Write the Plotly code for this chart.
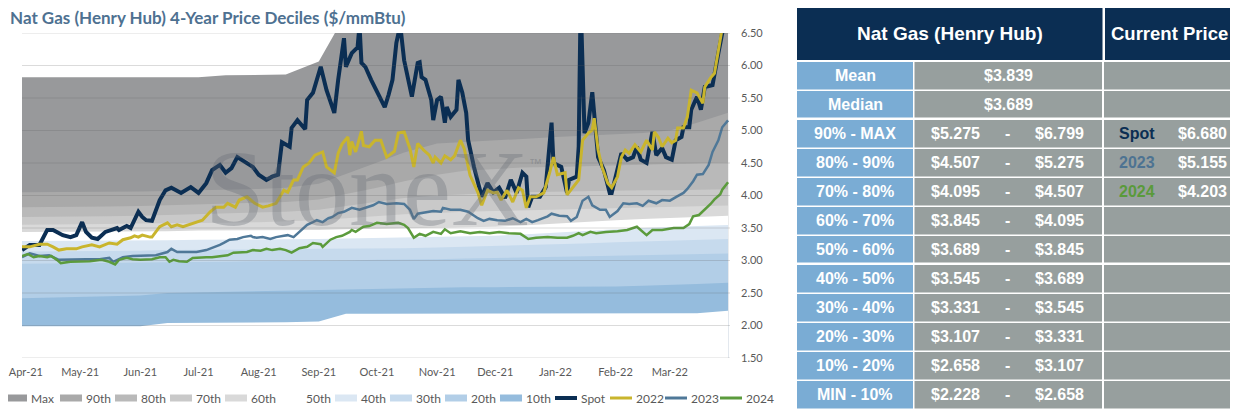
import plotly.graph_objects as go

# the page puts the figure 8px in from the top-left, so lay out in screen pixels and shift
OFF = 8
FW, FH = 1238 - OFF, 409 - OFF


def sx(x):
    return (x - OFF) / FW


def sy(y):
    return 1 - (y - OFF) / FH


# rolling 4-year decile bands at semi-monthly points
band_dates = ["2021-04-01", "2021-04-15", "2021-05-01", "2021-05-15", "2021-06-01",
              "2021-06-15", "2021-07-01", "2021-07-15", "2021-08-01", "2021-08-15",
              "2021-09-01", "2021-09-15", "2021-10-01", "2021-10-15", "2021-11-01",
              "2021-11-15", "2021-12-01", "2021-12-15", "2022-01-01", "2022-01-15",
              "2022-02-01", "2022-02-15", "2022-03-01", "2022-03-15", "2022-03-31"]
max_vals = [5.82, 5.82, 5.82, 5.82, 5.82, 5.82, 5.82, 5.85, 5.85, 5.86, 6.06, 6.799, 6.799,
            6.799, 6.799, 6.799, 6.799, 6.799, 6.799, 6.799, 6.799, 6.799, 6.799, 6.799, 6.799]
p90 = [4.05, 4.05, 4.05, 4.06, 4.06, 4.07, 4.08, 4.09, 4.10, 4.12, 4.18, 4.33, 4.50,
       4.66, 4.80, 4.82, 4.85, 4.87, 4.90, 4.92, 4.94, 4.96, 5.00, 5.12, 5.275]
p80 = [3.82, 3.82, 3.83, 3.83, 3.84, 3.85, 3.86, 3.87, 3.88, 3.90, 3.94, 4.02, 4.12,
       4.22, 4.32, 4.38, 4.41, 4.43, 4.44, 4.45, 4.46, 4.47, 4.48, 4.49, 4.507]
p70 = [3.67, 3.67, 3.68, 3.68, 3.69, 3.70, 3.71, 3.72, 3.73, 3.75, 3.78, 3.84, 3.90,
       3.96, 4.00, 4.02, 4.04, 4.05, 4.06, 4.07, 4.07, 4.08, 4.08, 4.09, 4.095]
p60 = [3.55, 3.55, 3.56, 3.56, 3.57, 3.57, 3.58, 3.58, 3.59, 3.60, 3.62, 3.65, 3.68,
       3.71, 3.73, 3.75, 3.76, 3.77, 3.78, 3.79, 3.80, 3.81, 3.82, 3.83, 3.845]
p50 = [3.44, 3.44, 3.44, 3.45, 3.45, 3.45, 3.46, 3.46, 3.46, 3.47, 3.47, 3.48, 3.49,
       3.50, 3.50, 3.51, 3.52, 3.54, 3.57, 3.60, 3.62, 3.64, 3.66, 3.67, 3.689]
p40 = [3.30, 3.30, 3.30, 3.31, 3.31, 3.31, 3.32, 3.32, 3.32, 3.33, 3.33, 3.34, 3.35,
       3.36, 3.36, 3.37, 3.38, 3.40, 3.43, 3.46, 3.48, 3.50, 3.52, 3.53, 3.545]
p30 = [3.14, 3.14, 3.15, 3.15, 3.15, 3.16, 3.16, 3.16, 3.17, 3.17, 3.18, 3.18, 3.19,
       3.19, 3.20, 3.21, 3.22, 3.23, 3.24, 3.26, 3.28, 3.29, 3.30, 3.32, 3.331]
p20 = [2.95, 2.95, 2.96, 2.96, 2.97, 2.97, 2.98, 2.98, 2.99, 2.99, 3.00, 3.00, 3.01,
       3.01, 3.02, 3.03, 3.04, 3.05, 3.05, 3.06, 3.07, 3.08, 3.09, 3.10, 3.107]
p10 = [2.42, 2.43, 2.44, 2.45, 2.46, 2.50, 2.51, 2.52, 2.53, 2.54, 2.55, 2.56, 2.57,
       2.58, 2.59, 2.59, 2.59, 2.59, 2.59, 2.60, 2.60, 2.61, 2.62, 2.64, 2.658]
min_vals = [1.99, 1.99, 1.99, 1.99, 1.99, 2.04, 2.04, 2.05, 2.05, 2.05, 2.06, 2.18, 2.18,
            2.18, 2.18, 2.18, 2.18, 2.18, 2.18, 2.18, 2.18, 2.18, 2.18, 2.19, 2.228]
decile_names = ["Max", "90th", "80th", "70th", "60th", "50th", "40th", "30th", "20th", "10th"]

# price lines as (date, $/mmBtu)
spot_points = [
    ("2021-04-01", 3.16), ("2021-04-05", 3.24), ("2021-04-10", 3.24), ("2021-04-14", 3.47),
    ("2021-04-17", 3.47), ("2021-04-22", 3.39), ("2021-04-26", 3.36), ("2021-04-29", 3.39),
    ("2021-05-02", 3.59), ("2021-05-04", 3.44), ("2021-05-07", 3.35), ("2021-05-10", 3.33),
    ("2021-05-14", 3.44), ("2021-05-20", 3.50), ("2021-05-21", 3.47), ("2021-05-25", 3.53),
    ("2021-05-27", 3.50), ("2021-05-31", 3.75), ("2021-06-02", 3.67), ("2021-06-04", 3.62),
    ("2021-06-07", 3.61), ("2021-06-11", 3.93), ("2021-06-14", 4.08), ("2021-06-17", 4.12),
    ("2021-06-22", 4.04), ("2021-06-27", 4.13), ("2021-07-01", 4.04), ("2021-07-05", 4.19),
    ("2021-07-08", 4.39), ("2021-07-12", 4.47), ("2021-07-15", 4.35), ("2021-07-18", 4.42),
    ("2021-07-21", 4.59), ("2021-07-26", 4.50), ("2021-07-29", 4.44), ("2021-08-01", 4.32),
    ("2021-08-05", 4.24), ("2021-08-08", 4.29), ("2021-08-11", 4.32), ("2021-08-13", 4.82),
    ("2021-08-17", 4.75), ("2021-08-18", 5.04), ("2021-08-21", 5.16), ("2021-08-25", 5.02),
    ("2021-08-26", 5.47), ("2021-08-29", 5.58), ("2021-08-31", 5.78), ("2021-09-02", 5.98),
    ("2021-09-05", 5.62), ("2021-09-07", 5.42), ("2021-09-09", 5.27), ("2021-09-11", 5.78),
    ("2021-09-14", 6.42), ("2021-09-15", 5.98), ("2021-09-18", 6.19), ("2021-09-21", 6.28),
    ("2021-09-22", 6.62), ("2021-09-23", 6.04), ("2021-09-25", 5.98), ("2021-09-28", 5.78),
    ("2021-10-02", 5.52), ("2021-10-05", 5.36), ("2021-10-07", 5.55), ("2021-10-09", 5.78),
    ("2021-10-11", 6.35), ("2021-10-13", 6.62), ("2021-10-15", 6.08), ("2021-10-17", 5.78),
    ("2021-10-19", 5.52), ("2021-10-22", 6.04), ("2021-10-23", 6.05), ("2021-10-24", 5.82),
    ("2021-10-26", 5.78), ("2021-10-29", 5.47), ("2021-10-30", 5.16), ("2021-11-01", 5.47),
    ("2021-11-03", 5.52), ("2021-11-05", 5.12), ("2021-11-06", 5.36), ("2021-11-08", 5.21),
    ("2021-11-11", 5.32), ("2021-11-12", 5.78), ("2021-11-14", 5.58), ("2021-11-16", 5.27),
    ("2021-11-17", 4.85), ("2021-11-20", 4.44), ("2021-11-23", 4.08), ("2021-11-24", 3.98),
    ("2021-11-27", 4.19), ("2021-11-30", 4.05), ("2021-12-03", 4.12), ("2021-12-06", 3.96),
    ("2021-12-09", 4.24), ("2021-12-12", 4.04), ("2021-12-15", 4.35), ("2021-12-17", 4.29),
    ("2021-12-18", 3.82), ("2021-12-20", 3.98), ("2021-12-24", 3.98), ("2021-12-27", 4.13),
    ("2021-12-30", 5.12), ("2021-12-31", 4.50), ("2022-01-04", 4.44), ("2022-01-07", 4.04),
    ("2022-01-08", 4.24), ("2022-01-12", 4.29), ("2022-01-13", 4.75), ("2022-01-14", 7.00),
    ("2022-01-16", 4.96), ("2022-01-18", 5.12), ("2022-01-20", 5.59), ("2022-01-22", 4.85),
    ("2022-01-23", 4.59), ("2022-01-26", 4.39), ("2022-01-29", 4.04), ("2022-01-30", 4.04),
    ("2022-02-02", 4.39), ("2022-02-04", 4.65), ("2022-02-07", 4.55), ("2022-02-10", 4.59),
    ("2022-02-12", 4.75), ("2022-02-14", 4.55), ("2022-02-17", 4.50), ("2022-02-20", 4.98),
    ("2022-02-22", 4.62), ("2022-02-25", 4.73), ("2022-02-27", 4.59), ("2022-03-02", 4.55),
    ("2022-03-04", 4.85), ("2022-03-07", 4.90), ("2022-03-08", 5.05), ("2022-03-11", 5.05),
    ("2022-03-12", 5.32), ("2022-03-15", 5.52), ("2022-03-17", 5.32), ("2022-03-19", 5.67),
    ("2022-03-23", 5.70), ("2022-03-25", 5.98), ("2022-03-26", 6.19), ("2022-03-28", 6.50),
    ("2022-03-31", 6.68),
]
y2022_points = [
    ("2021-04-01", 3.21), ("2021-04-05", 3.21), ("2021-04-10", 3.25), ("2021-04-14", 3.25),
    ("2021-04-17", 3.21), ("2021-04-20", 3.16), ("2021-04-24", 3.18), ("2021-04-29", 3.18),
    ("2021-05-02", 3.21), ("2021-05-07", 3.24), ("2021-05-11", 3.21), ("2021-05-16", 3.27),
    ("2021-05-20", 3.25), ("2021-05-23", 3.32), ("2021-05-27", 3.35), ("2021-05-29", 3.38),
    ("2021-05-31", 3.36), ("2021-06-02", 3.39), ("2021-06-06", 3.36), ("2021-06-07", 3.36),
    ("2021-06-11", 3.52), ("2021-06-15", 3.58), ("2021-06-17", 3.52), ("2021-06-20", 3.55),
    ("2021-06-23", 3.52), ("2021-06-26", 3.55), ("2021-06-30", 3.59), ("2021-07-03", 3.62),
    ("2021-07-07", 3.75), ("2021-07-10", 3.82), ("2021-07-14", 3.82), ("2021-07-16", 3.88),
    ("2021-07-20", 3.82), ("2021-07-22", 3.93), ("2021-07-26", 3.98), ("2021-07-28", 3.93),
    ("2021-07-30", 3.88), ("2021-08-03", 3.82), ("2021-08-06", 3.84), ("2021-08-10", 3.88),
    ("2021-08-14", 4.08), ("2021-08-16", 4.05), ("2021-08-19", 4.24), ("2021-08-21", 4.24),
    ("2021-08-24", 4.44), ("2021-08-27", 4.50), ("2021-08-30", 4.62), ("2021-09-03", 4.67),
    ("2021-09-05", 4.44), ("2021-09-09", 4.35), ("2021-09-11", 4.65), ("2021-09-13", 4.79),
    ("2021-09-16", 4.90), ("2021-09-17", 4.62), ("2021-09-18", 4.83), ("2021-09-20", 4.67),
    ("2021-09-23", 4.99), ("2021-09-24", 4.77), ("2021-09-27", 4.75), ("2021-09-30", 4.85),
    ("2021-10-03", 4.85), ("2021-10-06", 4.59), ("2021-10-10", 4.68), ("2021-10-12", 4.96),
    ("2021-10-15", 4.98), ("2021-10-18", 4.72), ("2021-10-20", 4.44), ("2021-10-22", 4.80),
    ("2021-10-25", 4.70), ("2021-10-28", 4.62), ("2021-10-30", 4.50), ("2021-10-31", 4.59),
    ("2021-11-03", 4.50), ("2021-11-05", 4.61), ("2021-11-08", 4.55), ("2021-11-10", 4.61),
    ("2021-11-13", 4.85), ("2021-11-15", 4.72), ("2021-11-18", 4.31), ("2021-11-22", 4.05),
    ("2021-11-24", 3.85), ("2021-11-27", 4.08), ("2021-11-30", 4.04), ("2021-12-02", 4.05),
    ("2021-12-04", 3.93), ("2021-12-07", 4.08), ("2021-12-10", 3.90), ("2021-12-13", 4.12),
    ("2021-12-15", 4.08), ("2021-12-17", 3.81), ("2021-12-19", 3.98), ("2021-12-22", 3.98),
    ("2021-12-26", 4.04), ("2021-12-29", 4.35), ("2021-12-31", 4.59), ("2022-01-02", 4.32),
    ("2022-01-06", 4.35), ("2022-01-07", 4.01), ("2022-01-10", 4.13), ("2022-01-13", 4.24),
    ("2022-01-15", 4.85), ("2022-01-18", 4.96), ("2022-01-20", 5.01), ("2022-01-21", 5.19),
    ("2022-01-23", 4.70), ("2022-01-25", 4.44), ("2022-01-28", 4.19), ("2022-01-30", 4.12),
    ("2022-02-02", 4.29), ("2022-02-04", 4.59), ("2022-02-06", 4.70), ("2022-02-08", 4.65),
    ("2022-02-11", 4.78), ("2022-02-14", 4.67), ("2022-02-17", 4.85), ("2022-02-20", 4.70),
    ("2022-02-21", 4.98), ("2022-02-23", 4.90), ("2022-02-25", 4.75), ("2022-02-28", 4.88),
    ("2022-03-02", 4.81), ("2022-03-04", 4.85), ("2022-03-05", 5.04), ("2022-03-08", 5.04),
    ("2022-03-10", 5.21), ("2022-03-12", 5.62), ("2022-03-15", 5.58), ("2022-03-18", 5.42),
    ("2022-03-19", 5.67), ("2022-03-22", 5.81), ("2022-03-24", 5.88), ("2022-03-25", 6.04),
    ("2022-03-27", 6.39), ("2022-03-28", 6.58), ("2022-03-31", 6.85),
]
y2023_points = [
    ("2021-04-01", 3.05), ("2021-04-05", 3.11), ("2021-04-10", 3.07), ("2021-04-15", 3.08),
    ("2021-04-20", 3.01), ("2021-04-27", 3.02), ("2021-05-04", 3.02), ("2021-05-11", 3.02),
    ("2021-05-16", 3.04), ("2021-05-18", 2.98), ("2021-05-23", 3.05), ("2021-05-28", 3.07),
    ("2021-06-04", 3.07), ("2021-06-09", 3.08), ("2021-06-15", 3.13), ("2021-06-17", 3.18),
    ("2021-06-20", 3.13), ("2021-06-25", 3.13), ("2021-06-30", 3.13), ("2021-07-05", 3.16),
    ("2021-07-08", 3.19), ("2021-07-12", 3.24), ("2021-07-14", 3.27), ("2021-07-17", 3.32),
    ("2021-07-21", 3.33), ("2021-07-24", 3.36), ("2021-07-28", 3.38), ("2021-07-29", 3.36),
    ("2021-07-31", 3.35), ("2021-08-03", 3.36), ("2021-08-07", 3.33), ("2021-08-10", 3.36),
    ("2021-08-14", 3.38), ("2021-08-16", 3.39), ("2021-08-19", 3.36), ("2021-08-22", 3.44),
    ("2021-08-26", 3.55), ("2021-08-29", 3.59), ("2021-08-31", 3.62), ("2021-09-03", 3.59),
    ("2021-09-06", 3.65), ("2021-09-08", 3.67), ("2021-09-11", 3.73), ("2021-09-14", 3.75),
    ("2021-09-18", 3.81), ("2021-09-22", 3.78), ("2021-09-25", 3.81), ("2021-09-29", 3.85),
    ("2021-10-02", 3.90), ("2021-10-06", 3.87), ("2021-10-11", 3.88), ("2021-10-15", 3.87),
    ("2021-10-18", 3.78), ("2021-10-20", 3.64), ("2021-10-22", 3.72), ("2021-10-27", 3.75),
    ("2021-10-30", 3.76), ("2021-11-03", 3.75), ("2021-11-04", 3.81), ("2021-11-08", 3.78),
    ("2021-11-13", 3.78), ("2021-11-17", 3.75), ("2021-11-22", 3.65), ("2021-11-25", 3.61),
    ("2021-11-28", 3.64), ("2021-12-02", 3.62), ("2021-12-06", 3.61), ("2021-12-10", 3.65),
    ("2021-12-14", 3.59), ("2021-12-17", 3.64), ("2021-12-20", 3.59), ("2021-12-23", 3.62),
    ("2021-12-28", 3.68), ("2021-12-30", 3.72), ("2022-01-03", 3.69), ("2022-01-07", 3.68),
    ("2022-01-09", 3.61), ("2022-01-12", 3.67), ("2022-01-15", 3.92), ("2022-01-18", 3.98),
    ("2022-01-20", 3.85), ("2022-01-24", 3.78), ("2022-01-27", 3.78), ("2022-01-29", 3.67),
    ("2022-02-02", 3.76), ("2022-02-05", 3.88), ("2022-02-08", 3.87), ("2022-02-12", 3.88),
    ("2022-02-15", 3.84), ("2022-02-18", 3.92), ("2022-02-22", 3.88), ("2022-02-25", 3.93),
    ("2022-03-01", 3.92), ("2022-03-05", 3.99), ("2022-03-08", 4.04), ("2022-03-10", 4.10),
    ("2022-03-13", 4.22), ("2022-03-15", 4.32), ("2022-03-18", 4.33), ("2022-03-21", 4.47),
    ("2022-03-23", 4.67), ("2022-03-26", 4.85), ("2022-03-28", 5.05), ("2022-03-31", 5.155),
]
y2024_points = [
    ("2021-04-01", 3.07), ("2021-04-04", 3.10), ("2021-04-07", 3.05), ("2021-04-10", 3.07),
    ("2021-04-14", 3.05), ("2021-04-16", 3.07), ("2021-04-19", 3.01), ("2021-04-21", 2.96),
    ("2021-04-26", 2.98), ("2021-05-01", 2.98), ("2021-05-06", 2.99), ("2021-05-12", 3.01),
    ("2021-05-16", 2.98), ("2021-05-19", 2.94), ("2021-05-21", 3.01), ("2021-05-25", 3.04),
    ("2021-05-28", 3.02), ("2021-06-01", 3.01), ("2021-06-04", 3.01), ("2021-06-07", 3.02),
    ("2021-06-11", 3.05), ("2021-06-14", 3.05), ("2021-06-16", 2.98), ("2021-06-18", 3.01),
    ("2021-06-21", 2.99), ("2021-06-25", 2.98), ("2021-06-28", 3.04), ("2021-07-02", 3.05),
    ("2021-07-05", 3.05), ("2021-07-08", 3.05), ("2021-07-12", 3.07), ("2021-07-16", 3.08),
    ("2021-07-19", 3.12), ("2021-07-22", 3.12), ("2021-07-26", 3.13), ("2021-07-29", 3.16),
    ("2021-08-02", 3.15), ("2021-08-05", 3.18), ("2021-08-08", 3.16), ("2021-08-12", 3.18),
    ("2021-08-15", 3.16), ("2021-08-18", 3.12), ("2021-08-22", 3.19), ("2021-08-26", 3.21),
    ("2021-08-29", 3.27), ("2021-09-02", 3.25), ("2021-09-03", 3.21), ("2021-09-07", 3.32),
    ("2021-09-10", 3.36), ("2021-09-13", 3.38), ("2021-09-17", 3.44), ("2021-09-18", 3.47),
    ("2021-09-20", 3.44), ("2021-09-24", 3.52), ("2021-09-27", 3.53), ("2021-10-01", 3.58),
    ("2021-10-06", 3.56), ("2021-10-12", 3.58), ("2021-10-15", 3.55), ("2021-10-17", 3.50),
    ("2021-10-20", 3.35), ("2021-10-23", 3.41), ("2021-10-26", 3.38), ("2021-10-30", 3.44),
    ("2021-11-03", 3.41), ("2021-11-05", 3.48), ("2021-11-08", 3.42), ("2021-11-13", 3.45),
    ("2021-11-18", 3.42), ("2021-11-23", 3.44), ("2021-11-28", 3.42), ("2021-12-03", 3.44),
    ("2021-12-08", 3.42), ("2021-12-14", 3.41), ("2021-12-18", 3.33), ("2021-12-22", 3.35),
    ("2021-12-28", 3.36), ("2022-01-02", 3.35), ("2022-01-07", 3.35), ("2022-01-10", 3.38),
    ("2022-01-13", 3.42), ("2022-01-15", 3.39), ("2022-01-19", 3.44), ("2022-01-22", 3.42),
    ("2022-01-27", 3.44), ("2022-02-02", 3.45), ("2022-02-07", 3.47), ("2022-02-12", 3.52),
    ("2022-02-15", 3.45), ("2022-02-17", 3.39), ("2022-02-20", 3.47), ("2022-02-25", 3.47),
    ("2022-03-03", 3.50), ("2022-03-08", 3.50), ("2022-03-11", 3.56), ("2022-03-13", 3.68),
    ("2022-03-16", 3.70), ("2022-03-19", 3.78), ("2022-03-22", 3.87), ("2022-03-24", 3.94),
    ("2022-03-27", 4.02), ("2022-03-28", 4.09), ("2022-03-31", 4.203),
]

# first label nudged a couple of days so it is not clipped at the page edge
month_ticks = ["2021-04-03", "2021-05-01", "2021-06-01", "2021-07-01", "2021-08-01", "2021-09-01",
               "2021-10-01", "2021-11-01", "2021-12-01", "2022-01-01", "2022-02-01", "2022-03-01"]
month_labels = ["Apr-21", "May-21", "Jun-21", "Jul-21", "Aug-21", "Sep-21",
                "Oct-21", "Nov-21", "Dec-21", "Jan-22", "Feb-22", "Mar-22"]
price_ticks = [1.5, 2.0, 2.5, 3.0, 3.5, 4.0, 4.5, 5.0, 5.5, 6.0, 6.5]

# table on the right
table_title = "Nat Gas (Henry Hub)"
current_title = "Current Price"
row_labels = ["Mean", "Median", "90% - MAX", "80% - 90%", "70% - 80%", "60% - 70%",
              "50% - 60%", "40% - 50%", "30% - 40%", "20% - 30%", "10% - 20%", "MIN - 10%"]
stat_values = ["$3.839", "$3.689"]
range_low = ["$5.275", "$4.507", "$4.095", "$3.845", "$3.689", "$3.545", "$3.331", "$3.107", "$2.658", "$2.228"]
range_high = ["$6.799", "$5.275", "$4.507", "$4.095", "$3.845", "$3.689", "$3.545", "$3.331", "$3.107", "$2.658"]
current_names = ["Spot", "2023", "2024"]
current_prices = ["$6.680", "$5.155", "$4.203"]

band_colors = ["#98999b", "#a9a9a9", "#b9b9b9", "#c9c9c9", "#d9d9d9", "#ffffff",
               "#dbe7f3", "#c6daed", "#b2cee7", "#95bcdd"]
navy = "#0b2e53"
label_blue = "#7aacd4"
cell_gray = "#979f9e"
current_colors = [navy, "#4d7392", "#5a9a3b"]

fig = go.Figure()

# decile areas, widest first so each smaller one paints over it
bands = [max_vals, p90, p80, p70, p60, p50, p40, p30, p20, p10]
for name, vals, col in zip(decile_names, bands, band_colors):
    fig.add_trace(go.Scatter(x=band_dates, y=vals, name=name, mode="lines", fill="tozeroy",
                             fillcolor=col, line=dict(width=0, color=col), hoverinfo="skip"))
fig.add_trace(go.Scatter(x=band_dates, y=min_vals, name="Min", mode="lines", fill="tozeroy",
                         fillcolor="white", line=dict(width=0, color="white"), hoverinfo="skip"))

lines = [("Spot", spot_points, navy, 4), ("2022", y2022_points, "#c9b52d", 3),
         ("2023", y2023_points, "#4f7898", 2.5), ("2024", y2024_points, "#5b9b3c", 2.5)]
for name, pts, col, w in lines:
    fig.add_trace(go.Scatter(x=[d for d, _ in pts], y=[v for _, v in pts], name=name,
                             mode="lines", line=dict(color=col, width=w)))

# gridlines drawn over the bands like the excel original
for v in price_ticks:
    fig.add_shape(type="line", xref="x domain", x0=0, x1=1, yref="y", y0=v, y1=v,
                  line=dict(color="rgba(90,90,90,0.22)", width=1), layer="above")

axis_font = dict(family="Lato", size=11, color="#595959")
fig.update_layout(
    width=FW, height=FH, margin=dict(l=0, r=0, t=0, b=0, autoexpand=False),
    paper_bgcolor="white", plot_bgcolor="white", showlegend=False,
    xaxis=dict(domain=[sx(22), sx(730)], type="date", range=["2021-04-01", "2022-04-01"],
               tickvals=month_ticks, ticktext=month_labels, showgrid=False, zeroline=False,
               showline=False, ticks="", tickfont=axis_font, ticklabelstandoff=6,
               ticklabeloverflow="allow"),
    yaxis=dict(domain=[sy(358), sy(33)], range=[1.5, 6.5], side="right",
               tickvals=price_ticks, tickformat=".2f", showgrid=False, zeroline=False,
               ticks="", tickfont=axis_font, ticklabelstandoff=10),
)

# excel-style legend row: short swatch, label right after it
legend_items = [(n, c, "fill") for n, c in zip(decile_names, band_colors)] + \
               [(name, col, "line") for name, _, col, _ in lines]
for k, (name, col, kind) in enumerate(legend_items):
    x0 = 5 + 55 * k
    if kind == "fill":
        fig.add_shape(type="rect", xref="paper", yref="paper", x0=sx(x0), x1=sx(x0 + 22),
                      y0=sy(401.5), y1=sy(394.5), fillcolor=col, line=dict(width=0))
    else:
        fig.add_shape(type="line", xref="paper", yref="paper", x0=sx(x0), x1=sx(x0 + 22),
                      y0=sy(398), y1=sy(398), line=dict(color=col, width=4 if name == "Spot" else 3))
    fig.add_annotation(text=name, xref="paper", yref="paper", x=sx(x0 + 24), y=sy(398),
                       xanchor="left", yanchor="middle", showarrow=False,
                       font=dict(family="Lato", size=12, color="#595959"))

fig.add_annotation(text="<b>Nat Gas (Henry Hub) 4-Year Price Deciles ($/mmBtu)</b>",
                   xref="paper", yref="paper", x=sx(8), y=sy(17), xanchor="left",
                   yanchor="middle", showarrow=False,
                   font=dict(family="Lato", size=17, color="#4e7191"))

# faint StoneX watermark
fig.add_annotation(text="StoneX", xref="paper", yref="paper", x=sx(367), y=sy(188),
                   xanchor="center", yanchor="middle", showarrow=False,
                   font=dict(family="Liberation Serif", size=108, color="rgba(100,106,114,0.33)"))
fig.add_annotation(text="™", xref="paper", yref="paper", x=sx(535), y=sy(163),
                   xanchor="center", yanchor="middle", showarrow=False,
                   font=dict(family="Liberation Sans", size=13, color="rgba(100,106,114,0.4)"))


def rect(x0, y0, x1, y1, color):
    fig.add_shape(type="rect", xref="paper", yref="paper", x0=sx(x0), x1=sx(x1),
                  y0=sy(y1), y1=sy(y0), fillcolor=color, line=dict(width=0))


def cell_text(text, x, y, size=16, color="white"):
    fig.add_annotation(text=f"<b>{text}</b>", xref="paper", yref="paper", x=sx(x), y=sy(y),
                       xanchor="center", yanchor="middle", showarrow=False,
                       font=dict(family="Liberation Sans", size=size, color=color))


# header
rect(797, 2, 1102.5, 60, navy)
rect(1105, 2, 1238, 60, navy)
cell_text(table_title, 950, 33, size=19)
cell_text(current_title, 1169, 33, size=18.5)

for i, lab in enumerate(row_labels):
    top = 62 + 29 * i
    h = 26.5 if i in (1, 6) else 27.5
    rect(797, top, 913, top + h, label_blue)
    rect(914.5, top, 1102, top + h, cell_gray)
    rect(1104, top, 1238, top + h, cell_gray)
    cy = top + h / 2
    cell_text(lab, 855, cy)
    if i < len(stat_values):
        cell_text(stat_values[i], 1008, cy)
    else:
        j = i - len(stat_values)
        cell_text(range_low[j], 955, cy)
        cell_text("-", 1007, cy)
        cell_text(range_high[j], 1059, cy)
        if j < len(current_names):
            cell_text(current_names[j], 1137, cy, color=current_colors[j])
            cell_text(current_prices[j], 1202, cy)

fig.write_html("out.html")
